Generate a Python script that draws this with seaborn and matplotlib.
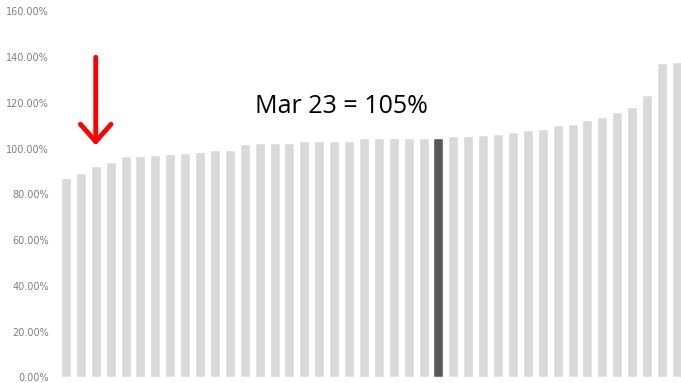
import matplotlib
matplotlib.use("Agg")
from matplotlib import pyplot as plt
from matplotlib.ticker import FuncFormatter
import seaborn as sns
import pandas as pd

# share of each month, sorted ascending; Mar 23 highlighted
values = [87.4, 89.2, 92.6, 94.2, 96.8, 96.8, 97.1, 97.5, 98.1, 98.6,
          99.3, 99.3, 102.1, 102.3, 102.3, 102.3, 103.2, 103.2, 103.6, 103.6,
          104.8, 104.8, 104.8, 104.8, 104.8, 104.8, 105.4, 105.4, 106.0, 106.4,
          107.1, 108.2, 108.6, 110.4, 110.9, 112.7, 113.9, 116.1, 118.1, 123.6,
          137.5, 137.9]
highlight_idx = 25
label_text = "Mar 23 = 105%"
arrow_bar = 2

df = pd.DataFrame({"pos": range(len(values)), "value": values})
df["group"] = ["hl" if i == highlight_idx else "other" for i in df["pos"]]

sns.set_style("white")
fig = plt.figure(figsize=(6.81, 3.83), dpi=100)
ax = fig.add_axes([0.0859, 0.0144, 0.919, 0.9556])

sns.barplot(data=df, x="pos", y="value", hue="group",
            palette={"other": "#d9d9d9", "hl": "#595959"},
            dodge=False, width=0.67, legend=False, ax=ax)

ax.set_ylim(0, 160)
ax.set_xlim(-0.5, len(values) - 0.5)
ax.set_yticks(range(0, 161, 20))
ax.yaxis.set_major_formatter(FuncFormatter(lambda v, p: f"{v:.2f}%"))
ax.tick_params(axis="y", labelsize=7, colors="#7f7f7f", length=0, pad=7)
ax.set_xticks([])
ax.set_xlabel("")
ax.set_ylabel("")
sns.despine(ax=ax, left=True, bottom=True)

ax.text(18.5, 118.4, label_text, fontsize=18, family="Open Sans",
        color="black", ha="center", va="center")

ax.annotate("", xy=(arrow_bar, 101.5), xytext=(arrow_bar, 140),
            arrowprops=dict(arrowstyle="->,head_length=1.25,head_width=1.1",
                            color="red", lw=3.5, shrinkA=0, shrinkB=0))

fig.savefig("out.png", dpi=100)
